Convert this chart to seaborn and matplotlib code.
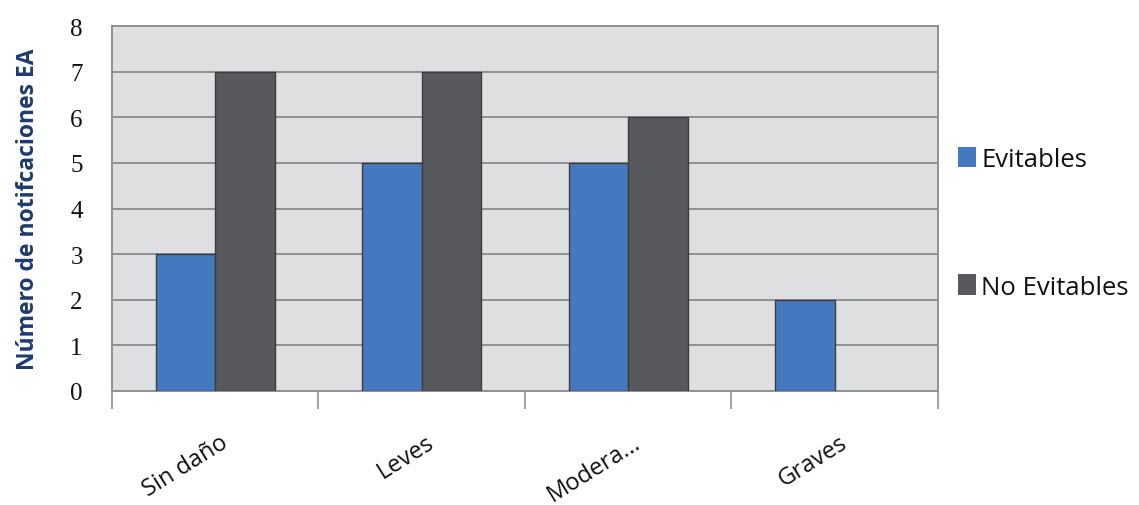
import matplotlib
matplotlib.use("Agg")
import matplotlib.pyplot as plt
import matplotlib.transforms as mtransforms
import seaborn as sns
import pandas as pd
import numpy as np

# Data
categories = ["Sin daño", "Leves", "Modera...", "Graves"]
series = ["Evitables", "No Evitables"]
evitables = [3, 5, 5, 2]
no_evitables = [7, 7, 6, 0]
y_ticks = [0, 1, 2, 3, 4, 5, 6, 7, 8]

colors = {"Evitables": "#4479BF", "No Evitables": "#58595C"}

df = pd.DataFrame({
    "Categoría": categories * 2,
    "Tipo": [series[0]] * len(categories) + [series[1]] * len(categories),
    "Valor": evitables + no_evitables,
})

sns.set_theme(style="white")
plt.rcParams["font.family"] = ["Open Sans", "DejaVu Sans"]

fig = plt.figure(figsize=(11.39, 5.06), dpi=100)
ax = fig.add_axes([0.0983, 0.2253, 0.7252, 0.7213])
ax.set_facecolor("#DEDFE1")

sns.barplot(data=df, x="Categoría", y="Valor", hue="Tipo", order=categories,
            hue_order=series, palette=colors, width=0.576, dodge=True,
            edgecolor="#3C3C3E", linewidth=1.0, saturation=1, ax=ax, zorder=3)

# empty bars carry no outline
for bar in ax.patches:
    if bar.get_height() == 0:
        bar.set_linewidth(0)

ax.set_xlim(-0.5, len(categories) - 0.5)
ax.set_ylim(0, 8)
ax.set_yticks(y_ticks)
ax.set_yticklabels([str(t) for t in y_ticks], fontfamily="Liberation Serif",
                   fontsize=18, color="#111111")
ax.yaxis.grid(True, color="#8F9092", linewidth=1.4, zorder=0)
ax.set_axisbelow(True)
ax.tick_params(axis="y", length=0, pad=21)

# category boundaries as ticks below the axis
ax.set_xticks(np.arange(-0.5, len(categories), 1.0), minor=True)
ax.tick_params(axis="x", which="minor", bottom=True, length=13, width=1.2,
               color="#8F9092", direction="out")
ax.tick_params(axis="x", which="major", length=0, pad=8)
ax.set_xticks(range(len(categories)))
ax.set_xticklabels(categories, rotation=32, ha="right", rotation_mode="anchor",
                   fontsize=17, color="#111111")
offset = mtransforms.ScaledTranslation(0.04, -0.28, fig.dpi_scale_trans)
for lbl in ax.get_xticklabels():
    lbl.set_transform(lbl.get_transform() + offset)

for side in ["left", "top", "right", "bottom"]:
    ax.spines[side].set_color("#8F9092")
    ax.spines[side].set_linewidth(1.4)

ax.set_xlabel("")
ax.set_ylabel("Número de notifcaciones EA", fontsize=16.5, fontweight="bold",
              color="#1F3A6E", labelpad=22)

handles, labels = ax.get_legend_handles_labels()
leg = ax.legend(handles, labels, loc="center left", bbox_to_anchor=(1.012, 0.46),
                frameon=False, fontsize=18.5, handlelength=0.7, handleheight=0.85,
                handletextpad=0.2, labelspacing=4.0, borderaxespad=0)
for txt in leg.get_texts():
    txt.set_color("#111111")

fig.savefig("out.png", dpi=100)
